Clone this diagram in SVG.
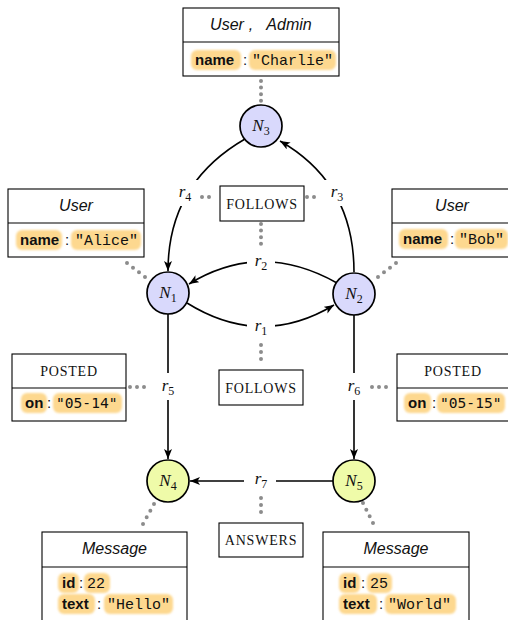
<svg xmlns="http://www.w3.org/2000/svg" width="508" height="620" viewBox="0 0 508 620">
<style>
.box{fill:#fff;stroke:#000;stroke-width:1.1}
.div{stroke:#000;stroke-width:1.1}
.title{font-family:"Liberation Sans",Arial,sans-serif;font-style:italic;font-size:16px;text-anchor:middle;fill:#111}
.key{font-family:"Liberation Sans",Arial,sans-serif;font-weight:bold;font-size:15px;fill:#111}
.colon{font-family:"Liberation Sans",Arial,sans-serif;font-size:15px;text-anchor:middle;fill:#111}
.val{font-family:"Liberation Mono","Courier New",monospace;font-size:15px;fill:#111}
.sval{font-family:"DejaVu Sans Mono","Liberation Mono",monospace;font-size:14.6px;fill:#111}
.hl{fill:#fdd88f;filter:url(#soft)}
.sc{font-family:"Liberation Serif","Times New Roman",serif;font-size:14px;letter-spacing:0.8px;text-anchor:middle;fill:#111}
.n1{fill:#d9d9fc;stroke:#000;stroke-width:1.7}
.n2{fill:#effba9;stroke:#000;stroke-width:1.7}
.nl{font-family:"Liberation Serif","Times New Roman",serif;font-style:italic;font-size:17px;text-anchor:middle;fill:#111}
.sub{font-style:normal;font-size:12px}
.edge{fill:none;stroke:#000;stroke-width:1.6}
.dot{fill:none;stroke:#8c8c8c;stroke-width:4;stroke-linecap:round;stroke-dasharray:0 7}
.lbg{fill:#fff}
</style>
<defs>
<marker id="arr" markerUnits="userSpaceOnUse" markerWidth="11" markerHeight="9" refX="10" refY="4" orient="auto">
<path d="M0,0 L10,4 L0,8 L2.5,4 Z" fill="#000"/>
</marker>
<filter id="soft" x="-10%" y="-20%" width="120%" height="140%"><feGaussianBlur stdDeviation="0.8"/></filter>
</defs>

<g id="connectors">
<path class="edge" d="M245,139 C200,165 168,205 168,271" marker-end="url(#arr)"/>
<path class="edge" d="M354,272 C354,205 322,165 280,141" marker-end="url(#arr)"/>
<path class="edge" d="M337,283 Q261,240 189,284" marker-end="url(#arr)"/>
<path class="edge" d="M187,303 Q261,349 334,305" marker-end="url(#arr)"/>
<path class="edge" d="M168,314 L168,459" marker-end="url(#arr)"/>
<path class="edge" d="M354,315 L354,459" marker-end="url(#arr)"/>
<path class="edge" d="M333,481 L190,481" marker-end="url(#arr)"/>
<line class="dot" x1="261" y1="81" x2="261" y2="101" style="stroke-dasharray:0 6.6"/>
<line class="dot" x1="202" y1="197" x2="216" y2="197"/>
<line class="dot" x1="307" y1="197" x2="321" y2="197"/>
<line class="dot" x1="261" y1="224" x2="261" y2="244" style="stroke-dasharray:0 6.6"/>
<line class="dot" x1="261" y1="345" x2="261" y2="366"/>
<line class="dot" x1="130" y1="387" x2="151" y2="387"/>
<line class="dot" x1="372" y1="387" x2="393" y2="387"/>
<line class="dot" x1="261" y1="498" x2="261" y2="519"/>
<line class="dot" x1="127" y1="263" x2="145" y2="277" style="stroke-dasharray:0 7.6"/>
<line class="dot" x1="396" y1="263" x2="378" y2="277" style="stroke-dasharray:0 7.6"/>
<line class="dot" x1="154" y1="504" x2="143" y2="524" style="stroke-dasharray:0 7.6"/>
<line class="dot" x1="363" y1="503" x2="373" y2="523" style="stroke-dasharray:0 7.45"/>
</g>

<g id="edge-labels">
<rect class="lbg" x="171" y="180" width="28" height="26"/>
<text class="nl" x="185" y="197">r<tspan class="sub" dy="4">4</tspan></text>
<rect class="lbg" x="323" y="180" width="28" height="26"/>
<text class="nl" x="337" y="197">r<tspan class="sub" dy="4">3</tspan></text>
<rect class="lbg" x="247" y="249" width="28" height="26"/>
<text class="nl" x="261" y="266">r<tspan class="sub" dy="4">2</tspan></text>
<rect class="lbg" x="247" y="314" width="28" height="26"/>
<text class="nl" x="261" y="331">r<tspan class="sub" dy="4">1</tspan></text>
<rect class="lbg" x="154" y="373" width="28" height="27"/>
<text class="nl" x="168" y="391">r<tspan class="sub" dy="4">5</tspan></text>
<rect class="lbg" x="340" y="373" width="28" height="27"/>
<text class="nl" x="354" y="391">r<tspan class="sub" dy="4">6</tspan></text>
<rect class="lbg" x="244" y="467" width="32" height="26"/>
<text class="nl" x="261" y="484">r<tspan class="sub" dy="4">7</tspan></text>
</g>

<g id="N3"><circle class="n1" cx="261" cy="126" r="21"/><text class="nl" x="261" y="131">N<tspan class="sub" dy="4">3</tspan></text></g>
<g id="N1"><circle class="n1" cx="168" cy="293" r="21"/><text class="nl" x="168" y="298">N<tspan class="sub" dy="4">1</tspan></text></g>
<g id="N2"><circle class="n1" cx="354" cy="294" r="21"/><text class="nl" x="354" y="299">N<tspan class="sub" dy="4">2</tspan></text></g>
<g id="N4"><circle class="n2" cx="168" cy="481" r="21"/><text class="nl" x="168" y="486">N<tspan class="sub" dy="4">4</tspan></text></g>
<g id="N5"><circle class="n2" cx="354" cy="481" r="21"/><text class="nl" x="354" y="486">N<tspan class="sub" dy="4">5</tspan></text></g>

<g id="follows-top"><rect class="box" x="220" y="186" width="84" height="35"/><text class="sc" x="262" y="208.5">FOLLOWS</text></g>
<g id="follows-bottom"><rect class="box" x="219" y="370" width="84" height="35"/><text class="sc" x="261" y="392.5">FOLLOWS</text></g>
<g id="answers"><rect class="box" x="219" y="523" width="84" height="34"/><text class="sc" x="261" y="545">ANSWERS</text></g>

<g id="props-N3">
<rect class="box" x="183" y="8" width="156" height="68"/>
<line class="div" x1="183" y1="42" x2="339" y2="42"/>
<text class="title" x="227" y="30">User</text>
<text class="title" x="251" y="30">,</text>
<text class="title" x="289" y="30">Admin</text>
<rect class="hl" x="191" y="50" width="50" height="20" rx="6"/>
<rect class="hl" x="249" y="50" width="87" height="20" rx="6"/>
<text class="key" x="195" y="65">name</text>
<text class="colon" x="245" y="65">:</text>
<text class="val" x="252" y="65">"Charlie"</text>
</g>

<g id="props-N1">
<rect class="box" x="8" y="189" width="136" height="68"/>
<line class="div" x1="8" y1="223" x2="144" y2="223"/>
<text class="title" x="76" y="211">User</text>
<rect class="hl" x="16" y="230" width="46" height="20" rx="6"/>
<rect class="hl" x="71" y="230" width="70" height="20" rx="6"/>
<text class="key" x="20" y="245">name</text>
<text class="colon" x="67" y="245">:</text>
<text class="val" x="75" y="245">"Alice"</text>
</g>

<g id="props-N2">
<rect class="box" x="392" y="189" width="122" height="68"/>
<line class="div" x1="392" y1="223" x2="514" y2="223"/>
<text class="title" x="452" y="211">User</text>
<rect class="hl" x="399" y="229" width="49" height="20" rx="6"/>
<rect class="hl" x="455" y="229" width="53" height="20" rx="6"/>
<text class="key" x="403" y="244">name</text>
<text class="colon" x="452" y="244">:</text>
<text class="val" x="459" y="244">"Bob"</text>
</g>

<g id="props-r5">
<rect class="box" x="12" y="354" width="114" height="67"/>
<line class="div" x1="12" y1="388" x2="126" y2="388"/>
<text class="sc" x="69" y="376">POSTED</text>
<rect class="hl" x="21" y="393" width="26" height="20" rx="6"/>
<rect class="hl" x="53" y="393" width="69" height="20" rx="6"/>
<text class="key" x="25" y="408">on</text>
<text class="colon" x="49" y="408">:</text>
<text class="sval" x="56" y="408">"05-14"</text>
</g>

<g id="props-r6">
<rect class="box" x="397" y="354" width="115" height="67"/>
<line class="div" x1="397" y1="388" x2="512" y2="388"/>
<text class="sc" x="453" y="376">POSTED</text>
<rect class="hl" x="404" y="393" width="27" height="20" rx="6"/>
<rect class="hl" x="437" y="393" width="68" height="20" rx="6"/>
<text class="key" x="408" y="408">on</text>
<text class="colon" x="434" y="408">:</text>
<text class="sval" x="440" y="408">"05-15"</text>
</g>

<g id="props-N4">
<rect class="box" x="42" y="532" width="145" height="100"/>
<line class="div" x1="42" y1="567" x2="187" y2="567"/>
<text class="title" x="114.5" y="554">Message</text>
<rect class="hl" x="58" y="573" width="21" height="20" rx="6"/>
<rect class="hl" x="84" y="573" width="26" height="20" rx="6"/>
<rect class="hl" x="58" y="594" width="37" height="20" rx="6"/>
<rect class="hl" x="104" y="594" width="69" height="20" rx="6"/>
<text class="key" x="62" y="588">id</text>
<text class="colon" x="81" y="588">:</text>
<text class="val" x="87" y="588">22</text>
<text class="key" x="62" y="609">text</text>
<text class="colon" x="99" y="609">:</text>
<text class="val" x="107" y="609">"Hello"</text>
</g>

<g id="props-N5">
<rect class="box" x="323" y="532" width="146" height="100"/>
<line class="div" x1="323" y1="567" x2="469" y2="567"/>
<text class="title" x="396" y="554">Message</text>
<rect class="hl" x="339" y="573" width="21" height="20" rx="6"/>
<rect class="hl" x="367" y="573" width="25" height="20" rx="6"/>
<rect class="hl" x="339" y="594" width="38" height="20" rx="6"/>
<rect class="hl" x="385" y="594" width="71" height="20" rx="6"/>
<text class="key" x="343" y="588">id</text>
<text class="colon" x="363" y="588">:</text>
<text class="val" x="370" y="588">25</text>
<text class="key" x="343" y="609">text</text>
<text class="colon" x="381" y="609">:</text>
<text class="val" x="388" y="609">"World"</text>
</g>
</svg>
